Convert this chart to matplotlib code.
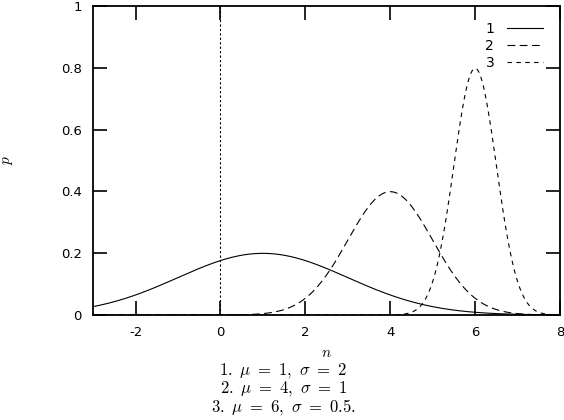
import numpy as np
import matplotlib
matplotlib.use("Agg")
import matplotlib.pyplot as plt

plt.rcParams['mathtext.fontset'] = 'cm'
plt.rcParams['font.family'] = ['DejaVu Sans']

# parameters of the three normal curves (read from caption)
labels = ["1", "2", "3"]
mus = [1, 4, 6]
sigmas = [2, 1, 0.5]
styles = ['-', (0, (7, 4)), (0, (4, 4))]

xticks = [-2, 0, 2, 4, 6, 8]
yticks = [0, 0.2, 0.4, 0.6, 0.8, 1]

fig = plt.figure(figsize=(5.64, 4.2), dpi=100)
ax = fig.add_axes([0.165, 0.25, 0.828, 0.736])

x = np.linspace(-3, 8, 1000)
for lab, mu, s, ls in zip(labels, mus, sigmas, styles):
    p = np.exp(-(x - mu) ** 2 / (2 * s ** 2)) / (s * np.sqrt(2 * np.pi))
    ax.plot(x, p, color='black', lw=0.8, linestyle=ls, label=lab)

ax.axvline(0, color='black', lw=0.8, linestyle=(0, (2, 2)))

ax.set_xlim(-3, 8)
ax.set_ylim(0, 1)
ax.set_xticks(xticks)
ax.set_xticklabels([str(t) for t in xticks])
ax.set_yticks(yticks)
ax.set_yticklabels(['0', '0.2', '0.4', '0.6', '0.8', '1'])
ax.tick_params(direction='in', length=10, width=1.2, top=True, right=True,
               labelsize=9.5, pad=8)
for sp in ax.spines.values():
    sp.set_linewidth(1.3)

ax.set_xlabel(r'$n$', fontsize=11, labelpad=4)
fig.text(0.014, 1 - 160 / 420, r'$p$', rotation=90, fontsize=11,
         ha='center', va='center')

leg = ax.legend(loc='upper right', bbox_to_anchor=(0.975, 0.965),
                borderaxespad=0, frameon=False, fontsize=10,
                handlelength=2.6, markerfirst=False, handletextpad=0.9,
                labelspacing=0.2)

caption = [r'$\mathrm{1.}\ \mu\ =\ 1,\ \sigma\ =\ 2$',
           r'$\mathrm{2.}\ \mu\ =\ 4,\ \sigma\ =\ 1$',
           r'$\mathrm{3.}\ \mu\ =\ 6,\ \sigma\ =\ 0.5.$']
for i, c in enumerate(caption):
    fig.text(0.502, 1 - (370 + 18.5 * i) / 420, c, ha='center', va='center',
             fontsize=12)

fig.savefig('out.png', dpi=100)
